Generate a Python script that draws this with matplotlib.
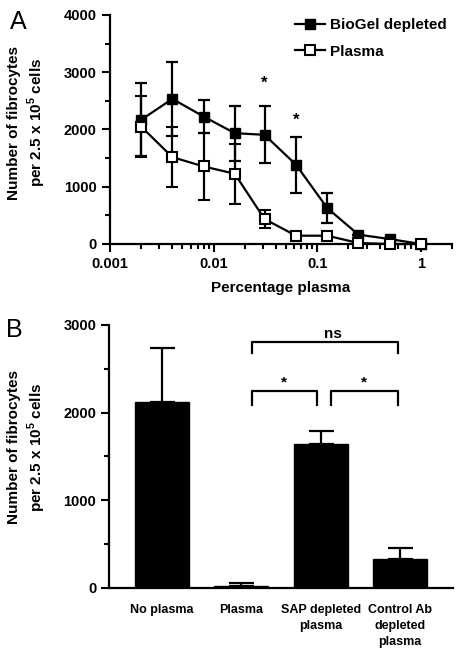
import matplotlib
matplotlib.use('Agg')
import matplotlib.pyplot as plt
from matplotlib.ticker import MultipleLocator, FixedLocator, NullFormatter
from matplotlib.lines import Line2D
import numpy as np

plt.rcParams['font.family'] = ['Liberation Sans', 'DejaVu Sans']
plt.rcParams['font.weight'] = 'bold'
plt.rcParams['mathtext.fontset'] = 'custom'
plt.rcParams['mathtext.rm'] = 'Liberation Sans:bold'
plt.rcParams['mathtext.bf'] = 'Liberation Sans:bold'

# panel A data
procent = [0.002, 0.004, 0.008, 0.016, 0.031, 0.0625, 0.125, 0.25, 0.5, 1.0]
biogel = [2170, 2535, 2227, 1936, 1907, 1384, 628, 163, 87, 0]
biogel_err = [640, 640, 280, 480, 500, 490, 260, 0, 0, 0]
plazma = [2050, 1517, 1355, 1227, 436, 145, 145, 17, 0, 0]
plazma_err = [530, 530, 580, 520, 150, 0, 0, 0, 0, 0]
gwiazdki_x = [0.031, 0.0625]
gwiazdki_y = [2810, 2160]

# panel B data
kategorie = ['No plasma', 'Plasma', 'SAP depleted\nplasma', 'Control Ab\ndepleted\nplasma']
slupki = [2124, 25, 1637, 324]
slupki_err = [610, 32, 152, 133]

ylabel = 'Number of fibrocytes\nper 2.5 x 10$^{5}$ cells'

fig = plt.figure(figsize=(4.64, 6.6), dpi=100)

# ---- panel A ----
ax = fig.add_axes([110/464, 1 - 244/660, 342/464, 229/660])
ax.errorbar(procent, biogel, yerr=biogel_err, color='black', linewidth=1.6,
            marker='s', markersize=6.5, markerfacecolor='black', capsize=4,
            capthick=1.6, elinewidth=1.6, clip_on=False, zorder=3)
ax.errorbar(procent, plazma, yerr=plazma_err, color='black', linewidth=1.6,
            marker='s', markersize=7, markerfacecolor='white', markeredgewidth=1.5,
            capsize=4, capthick=1.6, elinewidth=1.6, clip_on=False, zorder=4)
for gx, gy in zip(gwiazdki_x, gwiazdki_y):
    ax.text(gx, gy, '*', ha='center', va='center', fontsize=12, fontweight='bold')

ax.set_xscale('log')
ax.set_xlim(0.001, 2)
ax.set_ylim(0, 4000)
ax.xaxis.set_major_locator(FixedLocator([0.001, 0.01, 0.1, 1]))
ax.set_xticklabels(['0.001', '0.01', '0.1', '1'])
ax.xaxis.set_minor_locator(FixedLocator([m * 10.0**e for e in range(-3, 1) for m in range(2, 10)]))
ax.xaxis.set_minor_formatter(NullFormatter())
ax.yaxis.set_major_locator(MultipleLocator(1000))
ax.yaxis.set_minor_locator(MultipleLocator(500))
ax.set_xlabel('Percentage plasma', fontsize=11, fontweight='bold', labelpad=7)
ax.set_ylabel(ylabel, fontsize=11, fontweight='bold', va='center', linespacing=1.3)
ax.yaxis.set_label_coords(-0.241, 0.53)
uchwyty = [
    Line2D([], [], color='black', linewidth=1.6, marker='s', markersize=6.5,
           markerfacecolor='black'),
    Line2D([], [], color='black', linewidth=1.6, marker='s', markersize=7,
           markerfacecolor='white', markeredgewidth=1.5),
]
ax.legend(uchwyty, ['BioGel depleted', 'Plasma'], loc='upper left',
          bbox_to_anchor=(0.5, 1.045), frameon=False, fontsize=11,
          handlelength=2.0, handletextpad=0.3, labelspacing=0.8)

# ---- panel B ----
bx = fig.add_axes([109.5/464, 72.3/660, 343.5/464, 262.7/660])
pozycje = np.arange(len(kategorie))
bx.bar(pozycje, slupki, width=0.68, color='black', edgecolor='black')
bx.errorbar(pozycje, slupki, yerr=[np.zeros(len(slupki)), slupki_err], fmt='none',
            ecolor='black', elinewidth=1.6, capsize=9, capthick=1.6)
bx.set_xlim(-0.662, 3.67)
bx.set_ylim(0, 3000)
bx.set_xticks(pozycje)
bx.set_xticklabels(kategorie, fontsize=9, fontweight='bold', linespacing=1.4)
bx.yaxis.set_major_locator(MultipleLocator(1000))
bx.yaxis.set_minor_locator(MultipleLocator(500))
bx.set_ylabel(ylabel, fontsize=11, fontweight='bold', va='center', linespacing=1.3)
bx.yaxis.set_label_coords(-0.239, 0.534)


def klamra(ax, x1, x2, y, h, tekst, dx=0.0, dy=60):
    ax.plot([x1, x1, x2, x2], [y - h, y, y, y - h], color='black', linewidth=1.6)
    ax.text((x1 + x2) / 2 + dx, y + dy, tekst, ha='center', va='bottom',
            fontsize=11, fontweight='bold')


klamra(bx, 1.131, 2.972, 2808, 130, 'ns', dx=0.1, dy=10)
klamra(bx, 1.131, 1.951, 2245, 160, '*', dy=20)
klamra(bx, 2.131, 2.972, 2245, 160, '*', dy=20)

for a in (ax, bx):
    for s in ('top', 'right'):
        a.spines[s].set_visible(False)
    for s in ('left', 'bottom'):
        a.spines[s].set_linewidth(1.6)
    a.tick_params(which='major', direction='out', length=6, width=1.5, labelsize=10.5)
    a.tick_params(which='minor', direction='out', length=3.5, width=1.5)
    for t in a.get_yticklabels() + a.get_xticklabels():
        t.set_fontweight('bold')
bx.tick_params(axis='x', which='both', length=0, pad=12, labelsize=9)

fig.text(10/464, 1 - 10/660, 'A', fontsize=18, fontweight='normal', va='top', ha='left')
fig.text(6/464, 1 - 318/660, 'B', fontsize=18, fontweight='normal', va='top', ha='left')

fig.savefig('out.png', dpi=100)
